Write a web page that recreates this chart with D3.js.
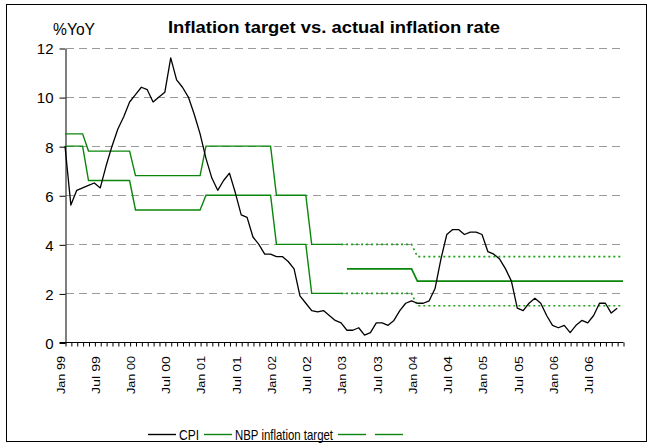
<!DOCTYPE html>
<html><head><meta charset="utf-8">
<script src="https://cdn.jsdelivr.net/npm/d3@7/dist/d3.min.js"></script>
<style>
body{margin:0;background:#fff}
svg{display:block}
text{font-family:"Liberation Sans",Arial,Helvetica,sans-serif;fill:#000}
</style>
</head><body>
<svg id="chart" width="655" height="447"></svg>
<script>
// ---- data (monthly, index 0 = Jan 99) ----
const tickLabels = ["Jan 99","Jul 99","Jan 00","Jul 00","Jan 01","Jul 01","Jan 02","Jul 02",
                    "Jan 03","Jul 03","Jan 04","Jul 04","Jan 05","Jul 05","Jan 06","Jul 06"];
const yTickValues = [0,2,4,6,8,10,12];

// CPI, % YoY, Jan 99 .. Nov 06
const cpi = [
  8.0,5.6,6.2,6.3,6.4,6.5,6.3,7.2,8.0,8.7,9.2,9.8,
  10.1,10.4,10.3,9.8,10.0,10.2,11.6,10.7,10.4,10.0,9.3,8.5,
  7.5,6.7,6.2,6.6,6.9,6.1,5.2,5.1,4.3,4.0,3.6,3.6,
  3.5,3.5,3.3,3.0,1.9,1.6,1.3,1.25,1.3,1.1,0.9,0.8,
  0.5,0.5,0.6,0.3,0.4,0.8,0.8,0.7,0.9,1.3,1.6,1.7,
  1.6,1.6,1.7,2.2,3.4,4.4,4.6,4.6,4.4,4.5,4.5,4.4,
  3.7,3.6,3.4,3.0,2.5,1.4,1.3,1.6,1.8,1.6,1.1,0.7,
  0.6,0.7,0.4,0.7,0.9,0.8,1.1,1.6,1.6,1.2,1.4
];

// NBP target band, Jan 99 .. Dec 02 (solid)
const bandUpperSolid = [
  8.5,8.5,8.5,8.5,7.8,7.8,7.8,7.8,7.8,7.8,7.8,7.8,
  6.8,6.8,6.8,6.8,6.8,6.8,6.8,6.8,6.8,6.8,6.8,6.8,
  8.0,8.0,8.0,8.0,8.0,8.0,8.0,8.0,8.0,8.0,8.0,8.0,
  6.0,6.0,6.0,6.0,6.0,6.0,4.0,4.0,4.0,4.0,4.0,4.0
];
const bandLowerSolid = [
  8.0,8.0,8.0,8.0,6.6,6.6,6.6,6.6,6.6,6.6,6.6,6.6,
  5.4,5.4,5.4,5.4,5.4,5.4,5.4,5.4,5.4,5.4,5.4,5.4,
  6.0,6.0,6.0,6.0,6.0,6.0,6.0,6.0,6.0,6.0,6.0,6.0,
  4.0,4.0,4.0,4.0,4.0,4.0,2.0,2.0,2.0,2.0,2.0,2.0
];
const bandSolidStart = 0;

// tolerance band, Dec 02 .. Dec 06 (dotted)
const bandUpperDotted = [
  4.0,4.0,4.0,4.0,4.0,4.0,4.0,4.0,4.0,4.0,4.0,4.0,4.0,
  3.5,3.5,3.5,3.5,3.5,3.5,3.5,3.5,3.5,3.5,3.5,3.5,
  3.5,3.5,3.5,3.5,3.5,3.5,3.5,3.5,3.5,3.5,3.5,3.5,
  3.5,3.5,3.5,3.5,3.5,3.5,3.5,3.5,3.5,3.5,3.5,3.5
];
const bandLowerDotted = [
  2.0,2.0,2.0,2.0,2.0,2.0,2.0,2.0,2.0,2.0,2.0,2.0,2.0,
  1.5,1.5,1.5,1.5,1.5,1.5,1.5,1.5,1.5,1.5,1.5,1.5,
  1.5,1.5,1.5,1.5,1.5,1.5,1.5,1.5,1.5,1.5,1.5,1.5,
  1.5,1.5,1.5,1.5,1.5,1.5,1.5,1.5,1.5,1.5,1.5,1.5
];
const bandDottedStart = 47;

// NBP point target, Jan 03 .. Dec 06
const nbpTarget = [
  3.0,3.0,3.0,3.0,3.0,3.0,3.0,3.0,3.0,3.0,3.0,3.0,
  2.5,2.5,2.5,2.5,2.5,2.5,2.5,2.5,2.5,2.5,2.5,2.5,
  2.5,2.5,2.5,2.5,2.5,2.5,2.5,2.5,2.5,2.5,2.5,2.5,
  2.5,2.5,2.5,2.5,2.5,2.5,2.5,2.5,2.5,2.5,2.5,2.5
];
const nbpTargetStart = 48;

const legendLabels = ["CPI","NBP inflation target","",""];
const legendColors = ["#000000","#0a870a","#0a870a","#0a870a"];

// ---- layout ----
const svg = d3.select("#chart");
const nMonths = 96;
const x = d3.scaleLinear().domain([0, nMonths - 1]).range([65, 623]);
const y = d3.scaleLinear().domain([0, 12]).range([342.5, 48]);
const green = "#0a870a";

// frame
svg.append("rect").attr("x",6.5).attr("y",4.5).attr("width",640).attr("height",437)
  .attr("fill","#fff").attr("stroke","#000").attr("stroke-width",1);

// gridlines
svg.append("g").selectAll("line").data(yTickValues.filter(v => v > 0)).join("line")
  .attr("x1", 66).attr("x2", 623)
  .attr("y1", d => Math.round(y(d)) + 0.5).attr("y2", d => Math.round(y(d)) + 0.5)
  .attr("stroke","#9a9a9a").attr("stroke-width",1).attr("stroke-dasharray","8,5");

// y axis
const yAxis = svg.append("g").attr("transform","translate(65.5,0.5)")
  .call(d3.axisLeft(y).tickValues(yTickValues).tickSize(6).tickSizeOuter(0).tickPadding(6));
yAxis.select(".domain").attr("stroke","#000");
yAxis.selectAll(".tick line").attr("stroke","#000");
yAxis.selectAll(".tick text").attr("font-size",15).attr("font-family",null).attr("dy","0.36em");

// x axis (monthly ticks)
const xAxis = svg.append("g").attr("transform","translate(0.5,342.5)")
  .call(d3.axisBottom(x).tickValues(d3.range(nMonths)).tickSize(4).tickSizeOuter(0).tickFormat(""));
xAxis.select(".domain").attr("stroke","#000").attr("d","M59,0H623");
xAxis.selectAll(".tick line").attr("stroke","#000");

// x labels
svg.append("g").selectAll("text").data(tickLabels).join("text")
  .attr("transform", (d,i) => `translate(${x(i*6) - 4.5},356) rotate(-90)`)
  .attr("text-anchor","end").attr("dy","0.35em")
  .attr("font-size",11.5)
  .attr("textLength",38).attr("lengthAdjust","spacingAndGlyphs")
  .text(d => d);

// line generator
const lineFrom = start => d3.line().x((d,i) => x(start + i)).y(d => y(d));

// target lines
svg.append("path").datum(bandUpperSolid).attr("d", lineFrom(bandSolidStart))
  .attr("fill","none").attr("stroke",green).attr("stroke-width",1.4);
svg.append("path").datum(bandLowerSolid).attr("d", lineFrom(bandSolidStart))
  .attr("fill","none").attr("stroke",green).attr("stroke-width",1.4);
svg.append("path").datum(bandUpperDotted).attr("d", lineFrom(bandDottedStart))
  .attr("fill","none").attr("stroke","#1d9e1d").attr("stroke-width",1.6).attr("stroke-dasharray","2,3");
svg.append("path").datum(bandLowerDotted).attr("d", lineFrom(bandDottedStart))
  .attr("fill","none").attr("stroke","#1d9e1d").attr("stroke-width",1.6).attr("stroke-dasharray","2,3");
svg.append("path").datum(nbpTarget).attr("d", lineFrom(nbpTargetStart))
  .attr("fill","none").attr("stroke",green).attr("stroke-width",1.7);

// CPI
svg.append("path").datum(cpi).attr("d", lineFrom(0))
  .attr("fill","none").attr("stroke","#000").attr("stroke-width",1.3).attr("stroke-linejoin","round");

// title and unit
svg.append("text").attr("x",334).attr("y",32.5).attr("text-anchor","middle")
  .attr("font-size",16.5).attr("font-weight","bold")
  .attr("textLength",332).attr("lengthAdjust","spacingAndGlyphs")
  .text("Inflation target vs. actual inflation rate");
svg.append("text").attr("x",53).attr("y",35).attr("font-size",16)
  .attr("textLength",42).attr("lengthAdjust","spacingAndGlyphs").text("%YoY");

// legend
const legendTextLen = [20, 98, 0, 0];
const lg = svg.append("g");
let lx = 148;
legendLabels.forEach((lab, i) => {
  lg.append("line").attr("x1",lx).attr("x2",lx+28).attr("y1",434.5).attr("y2",434.5)
    .attr("stroke",legendColors[i]).attr("stroke-width",1.4);
  if (lab) {
    lg.append("text").attr("x",lx+31).attr("y",439.5).attr("font-size",14.5)
      .attr("textLength",legendTextLen[i]).attr("lengthAdjust","spacingAndGlyphs").text(lab);
  }
  lx = lx + 31 + legendTextLen[i] + (lab ? 5 : 6);
});
</script>
</body></html>
